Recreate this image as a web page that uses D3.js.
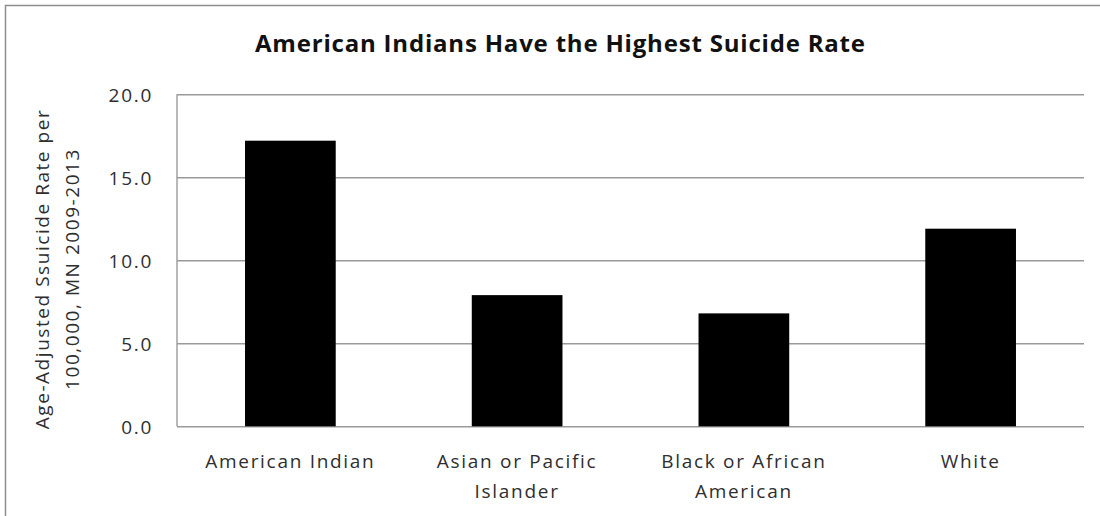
<!DOCTYPE html>
<html>
<head>
<meta charset="utf-8">
<script src="https://cdn.jsdelivr.net/npm/d3@7"></script>
<style>
  html, body { margin: 0; padding: 0; background: #fff; }
  svg { display: block; }
  text { font-family: "Open Sans", "Noto Sans", sans-serif; }
</style>
</head>
<body>
<svg id="chart" width="1100" height="516"></svg>
<script>
const title = "American Indians Have the Highest Suicide Rate";
const categories = [
  ["American Indian"],
  ["Asian or Pacific", "Islander"],
  ["Black or African", "American"],
  ["White"]
];
const values = [17.2, 7.9, 6.8, 11.9];
const yTicks = [0, 5, 10, 15, 20];
const yTitleLines = ["Age-Adjusted Ssuicide Rate per", "100,000, MN 2009-2013"];

const svg = d3.select("#chart");
const plot = { left: 177, right: 1084, top: 94.2, bottom: 426.3 };
const textColor = "#2e2e2e";

// outer border (extends beyond visible canvas at right/bottom)
svg.append("rect")
  .attr("x", 5.5).attr("y", 5.5)
  .attr("width", 1200).attr("height", 600)
  .attr("fill", "#fff")
  .attr("stroke", "#8e8e8e").attr("stroke-width", 1.5);

const x = d3.scaleBand()
  .domain(categories.map((c, i) => i))
  .range([plot.left, plot.right])
  .paddingInner(0.6)
  .paddingOuter(0.3);

const y = d3.scaleLinear()
  .domain([0, 20])
  .range([plot.bottom, plot.top]);

// gridlines
const grid = svg.append("g")
  .attr("transform", `translate(${plot.left},0)`)
  .call(d3.axisLeft(y).tickValues(yTicks).tickSize(-(plot.right - plot.left)).tickFormat(""));
grid.select(".domain").remove();
grid.selectAll(".tick line").attr("stroke", "#9a9a9a").attr("stroke-width", 1.4);

// left axis line
svg.append("line")
  .attr("x1", plot.left).attr("x2", plot.left)
  .attr("y1", plot.top).attr("y2", plot.bottom)
  .attr("stroke", "#9a9a9a").attr("stroke-width", 1.4);

// bars
svg.append("g").selectAll("rect")
  .data(values)
  .join("rect")
  .attr("x", (d, i) => x(i))
  .attr("width", x.bandwidth())
  .attr("y", d => y(d))
  .attr("height", d => y(0) - y(d))
  .attr("fill", "#000");

// y tick labels
const yAxis = svg.append("g")
  .attr("transform", `translate(${plot.left},0)`)
  .call(d3.axisLeft(y).tickValues(yTicks).tickSize(0).tickPadding(24).tickFormat(d3.format(".1f")));
yAxis.select(".domain").remove();
yAxis.selectAll(".tick text")
  .attr("font-size", 19)
  .attr("letter-spacing", "1.7px")
  .attr("fill", textColor)
  .attr("font-family", "'Open Sans', sans-serif")
  .attr("dy", "0.36em");

// x category labels
const xl = svg.append("g").selectAll("text")
  .data(categories)
  .join("text")
  .attr("x", (d, i) => x(i) + x.bandwidth() / 2)
  .attr("y", 467.5)
  .attr("text-anchor", "middle")
  .attr("font-size", 19)
  .attr("letter-spacing", "1.7px")
  .attr("fill", textColor);
xl.selectAll("tspan")
  .data(d => d)
  .join("tspan")
  .attr("x", function() { return d3.select(this.parentNode).attr("x"); })
  .attr("dy", (d, i) => i === 0 ? 0 : 30.5)
  .text(d => d);

// y axis title
const yt = svg.append("text")
  .attr("transform", "translate(48.5,269) rotate(-90)")
  .attr("text-anchor", "middle")
  .attr("font-size", 19)
  .attr("letter-spacing", "1.55px")
  .attr("fill", textColor);
yt.selectAll("tspan")
  .data(yTitleLines)
  .join("tspan")
  .attr("x", 0)
  .attr("dy", (d, i) => i === 0 ? 0 : 30)
  .text(d => d);

// title
svg.append("text")
  .attr("x", 560).attr("y", 52)
  .attr("text-anchor", "middle")
  .attr("font-size", 24)
  .attr("font-weight", "bold")
  .attr("fill", "#111")
  .attr("textLength", 610)
  .attr("lengthAdjust", "spacing")
  .text(title);
</script>
</body>
</html>
